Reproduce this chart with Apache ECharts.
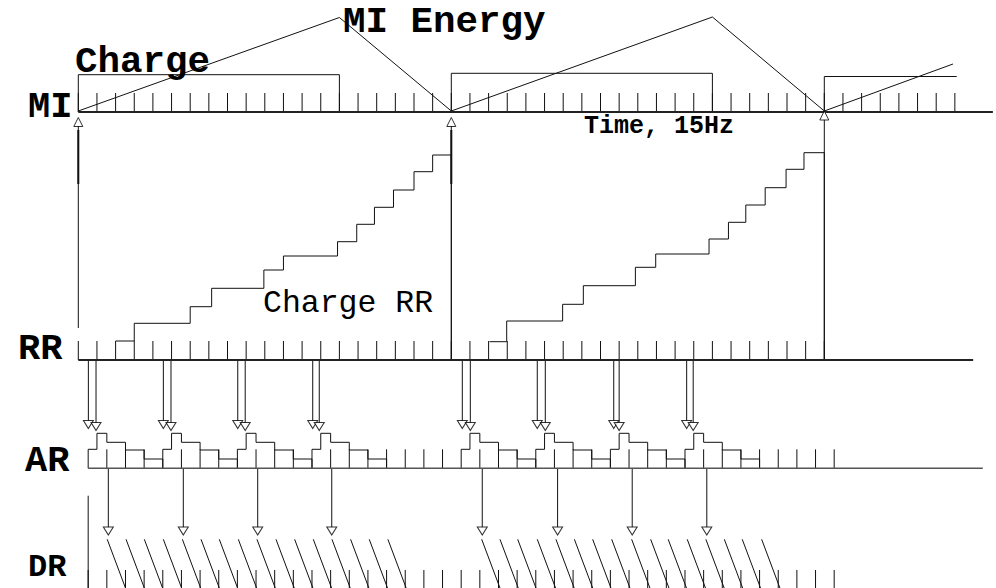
<!DOCTYPE html>
<html>
<head>
<meta charset="utf-8">
<script src="https://cdn.jsdelivr.net/npm/echarts@6/dist/echarts.min.js"></script>
<style>
html,body{margin:0;padding:0;background:#fff;}
#chart{width:996px;height:588px;}
</style>
</head>
<body>
<div id="chart"></div>
<script>
// ---------------- DATA (time in 15Hz ticks, levels in drawing units above each row baseline) ----------------
const rowNames = ['MI', 'RR', 'AR', 'DR'];
const miTickRange = [0, 47];
const miAxisEnd = 49.04;
const miEnergy = [[0, 1], [14, 94.5], [20, 1], [34, 95], [40, 1], [46.9, 48]];
const chargeBoxStart = [0, 20, 40];
const chargeBoxEnd = [14, 34, 47.1];
const chargeBoxHeight = [37.3, 38.7, 35.5];
const chargeBoxClosed = [true, true, false];

const miTransferT = [0, 20, 40];
const miTransferArrowLevel = [-10, -10, -3.5];   // relative to MI baseline
const miTransferBottom = [32, 0, 0];              // relative to RR baseline

const rrTickRange = [0, 40];
const rrAxisEnd = 47.98;
const rrEdges1 = [2, 3, 6, 7.15, 9.95, 11, 13.9, 14.93, 15.88, 16.9, 18, 19, 20];
const rrLevels1 = [19, 36.7, 53.3, 71.7, 90, 104, 118.3, 135.7, 152.7, 170, 188.3, 205];
const rrEdges2 = [22.05, 22.97, 25.97, 27.08, 29.87, 30.96, 33.82, 34.86, 35.79, 36.83, 37.95, 38.91, 40];
const rrLevels2 = [18.3, 39, 55.7, 74.3, 92.7, 106, 121, 137.7, 155, 172.3, 190.7, 207.3];

const rrToAr = [[0.54, 0.95], [4.56, 4.97], [8.55, 8.95], [12.57, 12.92],
                [20.59, 21.02], [24.61, 25.04], [28.71, 29.0], [32.62, 32.97]];

const arTickRange = [0.53, 40.53];
const arAxisEnd = 48.5;
const arGroupStarts = [0.53, 4.53, 8.53, 12.53, 20.53, 24.53, 28.53, 32.53];
const arGroupOffsets = [0, 0.47, 1, 2, 3, 4];
const arGroupLevels = [19, 35, 26, 18.3, 9.3];

const arToDr = [1.61, 5.63, 9.62, 13.59, 21.66, 25.7, 29.7, 33.7];

const drTickRange = [0.53, 40.53];
const drTeeth = [1.55, 2.56, 3.54, 4.56, 5.58, 6.58, 7.56, 8.58, 9.58, 10.6, 11.6, 12.6, 13.6, 14.6, 15.6, 16.6,
                 21.63, 22.61, 23.56, 24.61, 25.61, 26.6, 27.58, 28.6, 29.67, 30.69, 31.63, 32.65, 33.65, 34.64, 35.6, 36.64];
const drToothHeight = 49.7;

const tickHeight = 19;

// ---------------- LAYOUT ----------------
const W = 996, H = 588;
const T0_PX = 78.3, TICK_PX = 18.65;
const BASE = { MI: H - 112, RR: H - 360, AR: H - 468.3, DR: H - 589 };
const ARROW_RR_AR = [H - 424.5, H - 426.5];
const LINE_RR_AR_END = [H - 421, H - 423];
const ARROW_AR_DR = H - 531;
const LINE_AR_DR_END = H - 527.5;
const DR_FIRST_TICK_TOP = H - 495.7;

// ---------------- BUILD ----------------
const thin = [], thick = [], axisLines = [], upTri = [], downTri = [];
function seg(arr, a, b) { arr.push({ coords: [a, b] }); }
function ticks(range, base, h) {
  for (let t = range[0]; t <= range[1] + 1e-6; t += 1) seg(thin, [t, base], [t, base + h]);
}
ticks(miTickRange, BASE.MI, tickHeight);
ticks(rrTickRange, BASE.RR, tickHeight);
ticks(arTickRange, BASE.AR, tickHeight);
ticks(drTickRange, BASE.DR, tickHeight);
seg(thin, [drTickRange[0], BASE.DR], [drTickRange[0], DR_FIRST_TICK_TOP]);

axisLines.push({ coords: [[miTickRange[0], BASE.MI], [miAxisEnd, BASE.MI]] });
axisLines.push({ coords: [[rrTickRange[0], BASE.RR], [rrAxisEnd, BASE.RR]] });
const arAxis = [{ coords: [[arTickRange[0], BASE.AR], [arAxisEnd, BASE.AR]] }];

// MI energy
thin.push({ coords: miEnergy.map(p => [p[0], BASE.MI + p[1]]) });
// Charge boxes
chargeBoxStart.forEach((s, i) => {
  const e = chargeBoxEnd[i], h = BASE.MI + chargeBoxHeight[i];
  const c = [[s, BASE.MI], [s, h], [e, h]];
  if (chargeBoxClosed[i]) c.push([e, BASE.MI]);
  thin.push({ coords: c });
});
// MI <-> RR transfers
miTransferT.forEach((t, i) => {
  const yTri = BASE.MI + miTransferArrowLevel[i];
  upTri.push([t, yTri]);
  seg(thin, [t, yTri - 4], [t, BASE.RR + miTransferBottom[i]]);
  if (i < 2) seg(thick, [t, H - 130], [t, H - 184]);
});
// RR staircases
function stairs(edges, levels) {
  const c = [];
  levels.forEach((lv, i) => { c.push([edges[i], BASE.RR + lv]); c.push([edges[i + 1], BASE.RR + lv]); });
  c.push([edges[edges.length - 1], BASE.RR]);
  thin.push({ coords: c });
}
stairs(rrEdges1, rrLevels1);
stairs(rrEdges2, rrLevels2);
// RR -> AR arrows
rrToAr.forEach(pair => {
  pair.forEach((t, j) => {
    seg(thin, [t, BASE.RR], [t, LINE_RR_AR_END[j]]);
    downTri.push([t, ARROW_RR_AR[j]]);
  });
});
// AR boxes
arGroupStarts.forEach(s => {
  const c = [];
  arGroupLevels.forEach((lv, i) => {
    c.push([s + arGroupOffsets[i], BASE.AR + lv]);
    c.push([s + arGroupOffsets[i + 1], BASE.AR + lv]);
  });
  c.push([s + arGroupOffsets[arGroupOffsets.length - 1], BASE.AR]);
  thin.push({ coords: c });
});
// AR -> DR arrows
arToDr.forEach(t => {
  seg(thin, [t, BASE.AR], [t, LINE_AR_DR_END]);
  downTri.push([t, ARROW_AR_DR]);
});
// DR saw teeth
drTeeth.forEach(t => seg(thin, [t, BASE.DR + drToothHeight], [t + 1, BASE.DR]));

const FONT = '"Liberation Mono", "Courier New", monospace';
function label(text, x, y, size, weight) {
  return { type: 'text', x: x, y: y, silent: true, z: 100,
    style: { text: text, font: weight + ' ' + size + 'px ' + FONT, fill: '#000', align: 'left', verticalAlign: 'middle' } };
}

const chart = echarts.init(document.getElementById('chart'), null, { renderer: 'svg', width: W, height: H });
chart.setOption({
  animation: false,
  backgroundColor: '#fff',
  grid: { left: 0, right: 0, top: 0, bottom: 0 },
  xAxis: { type: 'value', min: -T0_PX / TICK_PX, max: (W - T0_PX) / TICK_PX, show: false },
  yAxis: { type: 'value', min: 0, max: H, show: false },
  series: [
    { type: 'lines', coordinateSystem: 'cartesian2d', polyline: true, silent: true,
      lineStyle: { color: '#111', width: 1, opacity: 1 }, data: thin },
    { type: 'lines', coordinateSystem: 'cartesian2d', polyline: true, silent: true,
      lineStyle: { color: '#111', width: 2, opacity: 1 }, data: thick },
    { type: 'lines', coordinateSystem: 'cartesian2d', polyline: true, silent: true,
      lineStyle: { color: '#222', width: 2, opacity: 1 }, data: axisLines },
    { type: 'lines', coordinateSystem: 'cartesian2d', polyline: true, silent: true,
      lineStyle: { color: '#555', width: 1.5, opacity: 1 }, data: arAxis },
    { type: 'scatter', silent: true, symbol: 'triangle', symbolSize: [9, 9], z: 10,
      itemStyle: { color: '#fff', borderColor: '#000', borderWidth: 1 }, data: upTri },
    { type: 'scatter', silent: true, symbol: 'triangle', symbolSize: [10, 8], symbolRotate: 180, z: 10,
      itemStyle: { color: '#fff', borderColor: '#000', borderWidth: 1 }, data: downTri }
  ],
  graphic: [
    label('MI Energy', 343, 22, 37.5, 'bold'),
    label('Charge', 75, 62, 37.5, 'bold'),
    label('MI', 28, 107, 37, 'bold'),
    label('RR', 18, 348.5, 37, 'bold'),
    label('AR', 25, 460.5, 37, 'bold'),
    label('DR', 28, 567, 32, 'bold'),
    label('Charge RR', 263, 303, 31.5, 'normal'),
    label('Time, 15Hz', 584, 126.5, 25, 'bold')
  ]
});
</script>
</body>
</html>
